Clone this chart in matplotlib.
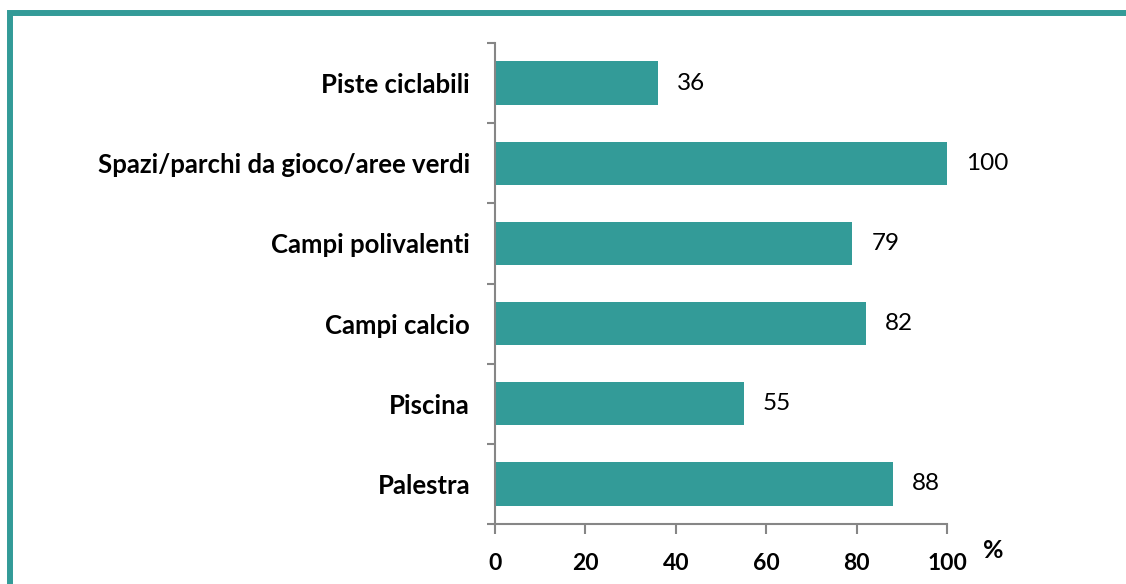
import matplotlib.pyplot as plt
from matplotlib.patches import Rectangle

categories = ['Palestra', 'Piscina', 'Campi calcio', 'Campi polivalenti',
              'Spazi/parchi da gioco/aree verdi', 'Piste ciclabili']
values = [88, 55, 82, 79, 100, 36]
xticks = [0, 20, 40, 60, 80, 100]

bar_color = '#339b98'
axis_color = '#868686'

plt.rcParams['font.family'] = ['Lato', 'DejaVu Sans']

fig = plt.figure(figsize=(11.26, 5.84), dpi=100)
ax = fig.add_axes([495 / 1126, 60 / 584, 452 / 1126, 481 / 584])

y = range(len(categories))
bars = ax.barh(y, values, height=0.54, color=bar_color)
ax.bar_label(bars, labels=[str(v) for v in values], padding=14, fontsize=17.5)

ax.set_xlim(0, 100)
ax.set_ylim(-0.5, len(categories) - 0.5)
ax.set_xticks(xticks)
ax.set_xticklabels([str(t) for t in xticks], fontsize=16.5, fontweight='bold')
ax.set_yticks(list(y))
ax.set_yticklabels(categories, fontsize=18.5, fontweight='bold')
ax.tick_params(axis='y', length=0, pad=18)
ax.set_yticks([i - 0.5 for i in range(len(categories) + 1)], minor=True)
ax.tick_params(axis='y', which='minor', length=6, color=axis_color, width=1.5)
ax.tick_params(axis='x', length=7, color=axis_color, width=1.5, pad=14)

for s in ['top', 'right']:
    ax.spines[s].set_visible(False)
for s in ['left', 'bottom']:
    ax.spines[s].set_color(axis_color)
    ax.spines[s].set_linewidth(1.5)

fig.text(993 / 1126, 1 - 550 / 584, '%', fontsize=18, fontweight='bold',
         ha='center', va='center')

# teal frame, clipped on the right and bottom like the original
fig.patches.append(Rectangle((9.5 / 1126, -0.1), 1.2, 1 - 13 / 584 + 0.1,
                             transform=fig.transFigure, fill=False,
                             edgecolor=bar_color, linewidth=4.3))

fig.savefig('out.png', dpi=100)
